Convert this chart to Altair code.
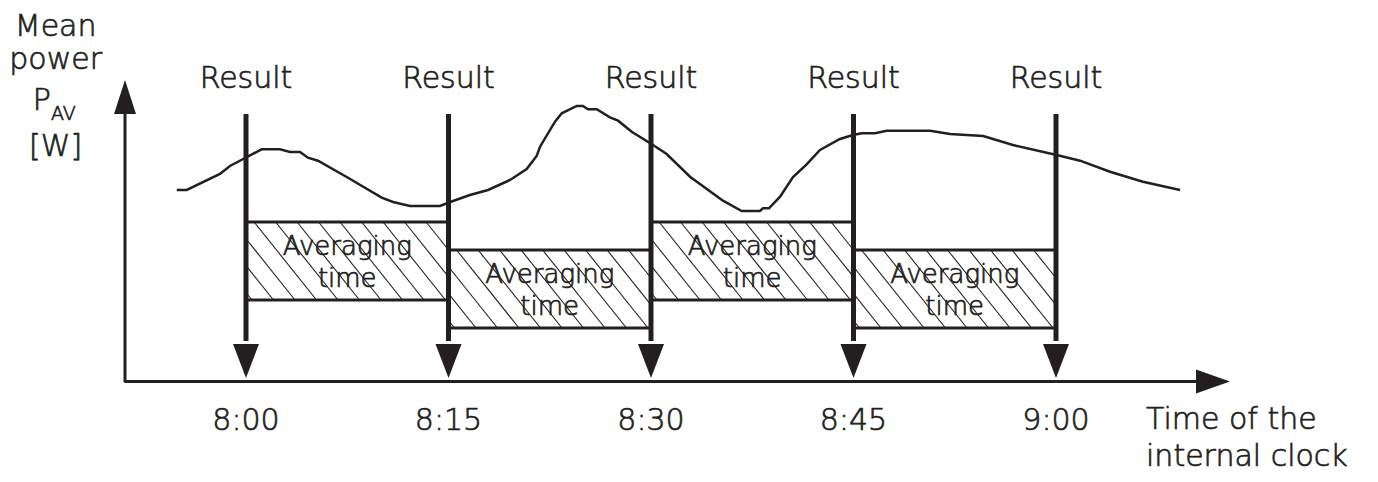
import altair as alt
import pandas as pd

# ---- data ----
result_times = [0, 15, 30, 45, 60]            # minutes after 8:00
tick_labels = ["8:00", "8:15", "8:30", "8:45", "9:00"]
result_labels = ["Result"] * 5

box_start = [0, 15, 30, 45]
box_end = [15, 30, 45, 60]
box_top = [159, 131, 159, 131]
box_bottom = [81, 53, 81, 53]

curve_t = [-5.13, -4.39, -1.93, -1.19, -0.07, 1.16, 2.52, 3.26, 4.0, 4.59, 5.33,
           7.46, 10.05, 10.89, 12.15, 14.37, 15.33, 16.59, 17.93, 19.56, 20.79,
           21.53, 21.78, 22.89, 23.39, 24.5, 24.96, 25.33, 25.98, 26.96, 27.56,
           28.57, 30.15, 31.16, 32.89, 35.33, 36.72, 38.07, 38.3, 38.74, 39.56,
           40.52, 41.53, 42.52, 44.0, 44.96, 45.61, 46.59, 47.46, 50.67, 52.15,
           54.61, 56.81, 60.05, 61.78, 64.0, 66.44, 69.19]
curve_p = [191, 191, 207, 215, 223, 231.7, 231.7, 229, 229, 223.3, 220.3,
           204, 183.3, 179, 175, 175, 180, 186, 191, 201, 212,
           225, 234.3, 259.3, 267.7, 275, 275, 271.7, 271.7, 263.7, 260.3,
           249.3, 236, 227, 204.3, 180.3, 170, 170, 172.7, 172.7, 184.3,
           204, 216.7, 231, 242, 246, 247.7, 247.7, 250.3, 250.3, 247,
           245, 236, 226, 220.3, 209.3, 199.3, 191]

INK = "#231f20"
FONT = "DejaVu Sans"
FS = 30
FW = 200
TXT = dict(font=FONT, fontWeight=FW, color=INK, stroke=INK, strokeWidth=0.7,
           baseline="alphabetic")

# ---- scales (chart area 1362x466) ----
xs = alt.Scale(domain=[-17.63, 83.26], nice=False, zero=False)
ys = alt.Scale(domain=[-93, 373], nice=False, zero=False)


def X(f="t"):
    return alt.X(f"{f}:Q", scale=xs, axis=None)


def Y(f="p"):
    return alt.Y(f"{f}:Q", scale=ys, axis=None)


# ---- hatching inside the averaging boxes ----
PX = 13.5        # px per minute
SLOPE = 1.25     # hatch steepness (px/px)
SPACING = 21.5   # px between hatch lines
hatch_rows = []
for s, e, top, bot in zip(box_start, box_end, box_top, box_bottom):
    x0, x1 = s * PX, e * PX
    H = top - bot
    c = x0 - H / SLOPE + 6
    while c < x1:
        xa = max(c, x0)
        ya = top - SLOPE * (xa - c)
        xb = min(c + H / SLOPE, x1)
        yb = top - SLOPE * (xb - c)
        if xb > xa + 0.5:
            hatch_rows.append({"t": xa / PX, "p": ya, "t2": xb / PX, "p2": yb})
        c += SPACING
hatch_df = pd.DataFrame(hatch_rows)

hatch = alt.Chart(hatch_df).mark_rule(color=INK, strokeWidth=1.1).encode(
    x=X(), y=Y(), x2="t2:Q", y2="p2:Q")

boxes_df = pd.DataFrame({"t": box_start, "t2": box_end, "p": box_top, "p2": box_bottom})
boxes = alt.Chart(boxes_df).mark_rect(fill=None, fillOpacity=0, stroke=INK, strokeWidth=3).encode(
    x=X(), x2="t2:Q", y=Y(), y2="p2:Q")

box_text_df = pd.DataFrame({
    "t": [(a + b) / 2 for a, b in zip(box_start, box_end)] * 2,
    "p": [t - 33 for t in box_top] + [t - 65 for t in box_top],
    "txt": ["Averaging"] * 4 + ["time"] * 4,
})
box_text = alt.Chart(box_text_df).mark_text(fontSize=26, align="center", **TXT).encode(
    x=X(), y=Y(), text="txt:N")

# ---- curve ----
curve = alt.Chart(pd.DataFrame({"t": curve_t, "p": curve_p})).mark_line(
    color=INK, strokeWidth=2.5).encode(x=X(), y=Y())

# ---- result arrows ----
res_df = pd.DataFrame({"t": result_times, "p": [267] * 5, "p2": [40] * 5,
                       "lab": result_labels, "tick": tick_labels,
                       "pa": [20] * 5, "pl": [293] * 5, "pt": [-49] * 5})
res_lines = alt.Chart(res_df).mark_rule(color=INK, strokeWidth=5).encode(
    x=X(), y=Y(), y2="p2:Q")
res_heads = alt.Chart(res_df).mark_point(
    shape="M -0.765 -1 L 0.765 -1 L 0 1 Z", size=1156, filled=True, fill=INK,
    strokeWidth=0, opacity=1).encode(x=X(), y=Y("pa"))
res_labels = alt.Chart(res_df).mark_text(fontSize=FS, align="center", **TXT).encode(
    x=X(), y=Y("pl"), text="lab:N")
tick_text = alt.Chart(res_df).mark_text(fontSize=FS, align="center", **TXT).encode(
    x=X(), y=Y("pt"), text="tick:N")

# ---- axes drawn as arrows ----
YAX_T = -8.963
yaxis = alt.Chart(pd.DataFrame({"t": [YAX_T], "p": [-1.5], "p2": [268]})).mark_rule(
    color=INK, strokeWidth=3).encode(x=X(), y=Y(), y2="p2:Q")
yhead = alt.Chart(pd.DataFrame({"t": [YAX_T], "p": [284]})).mark_point(
    shape="M -0.647 1 L 0.647 1 L 0 -1 Z", size=1156, filled=True, fill=INK,
    strokeWidth=0, opacity=1).encode(x=X(), y=Y())
xaxis = alt.Chart(pd.DataFrame({"t": [YAX_T], "t2": [70.67], "p": [-0.5]})).mark_rule(
    color=INK, strokeWidth=3).encode(x=X(), x2="t2:Q", y=Y())
xhead = alt.Chart(pd.DataFrame({"t": [71.63], "p": [-0.5]})).mark_point(
    shape="M -1 -0.706 L 1 0 L -1 0.706 Z", size=1156, filled=True, fill=INK,
    strokeWidth=0, opacity=1).encode(x=X(), y=Y())

# ---- axis titles ----
ylab_df = pd.DataFrame({"t": [-14.1, -14.1, -14.1], "p": [345, 312, 225],
                        "txt": ["Mean", "power", "[W]"]})
ylab = alt.Chart(ylab_df).mark_text(fontSize=FS, align="center", **TXT).encode(
    x=X(), y=Y(), text="txt:N")
p_main = alt.Chart(pd.DataFrame({"t": [-14.45], "p": [271], "txt": ["P"]})).mark_text(
    fontSize=FS, align="right", **TXT).encode(x=X(), y=Y(), text="txt:N")
p_sub = alt.Chart(pd.DataFrame({"t": [-14.45], "p": [261], "txt": ["AV"]})).mark_text(
    fontSize=19, align="left", **TXT).encode(x=X(), y=Y(), text="txt:N")

xlab_df = pd.DataFrame({"t": [66.67, 66.67], "p": [-48, -85],
                        "txt": ["Time of the", "internal clock"]})
xlab = alt.Chart(xlab_df).mark_text(fontSize=FS, align="left", **TXT).encode(
    x=X(), y=Y(), text="txt:N")

chart = alt.layer(
    hatch, boxes, box_text, curve, res_lines, res_heads, res_labels, tick_text,
    yaxis, yhead, xaxis, xhead, ylab, p_main, p_sub, xlab
).properties(
    width=1362, height=466,
    autosize=alt.AutoSizeParams(type="none"),
    padding=0,
    background="white",
).configure_view(stroke=None)

chart.save("out.html", embed_options={"renderer": "svg", "actions": False})
